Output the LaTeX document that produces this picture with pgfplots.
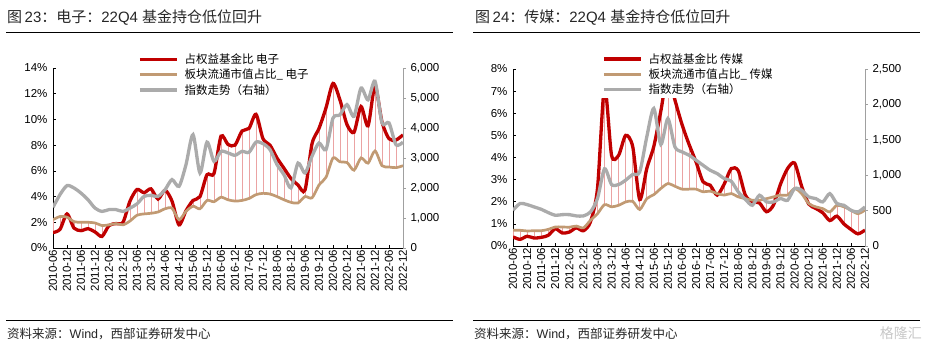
\documentclass[border=0pt]{standalone}
\usepackage{pgfplots}
\pgfplotsset{compat=1.18}
\usepackage{pgfplotstable}
\usepackage{fontspec}
\setmainfont{Liberation Sans}
\newfontfamily\cjk{Noto Sans CJK SC}
\definecolor{cred}{HTML}{C00000}
\definecolor{ctan}{HTML}{C19A73}
\definecolor{cgray}{HTML}{ABABAB}
\definecolor{cdrop}{HTML}{EBA3A3}
\definecolor{caxisg}{HTML}{A0A0A0}
\definecolor{ctext}{HTML}{262626}

% Electronics: i, fund share (%), market-cap share (%), index (right axis)
\pgfplotstableread{
i r t g
0 1.2 2.2 1356
1 1.45 2.45 1780
2 2.65 2.4 2080
3 1.55 2.05 2000
4 1.35 2.0 1830
5 1.5 2.0 1610
6 1.25 1.95 1330
7 0.9 1.75 1220
8 1.75 1.8 1280
9 1.9 1.9 1280
10 2.0 1.8 1220
11 3.65 2.1 1330
12 4.55 2.55 1470
13 4.3 2.65 1720
14 4.6 2.7 1755
15 3.8 2.8 1720
16 4.5 3.05 1940
17 3.65 3.1 2280
18 1.8 2.2 2055
19 2.9 2.85 2780
20 3.7 3.25 3780
21 4.0 3.05 2500
22 5.7 3.7 3530
23 5.8 3.6 2890
24 8.7 3.95 3220
25 8.05 3.75 3170
26 8.0 3.65 3090
27 9.1 3.7 3220
28 9.3 3.85 3190
29 10.4 4.15 3530
30 8.5 4.25 3480
31 8.0 4.2 3280
32 7.0 4.0 2780
33 6.2 3.75 2440
34 5.4 3.55 2000
35 4.9 3.5 2830
36 4.5 4.0 2500
37 8.1 3.9 3060
38 9.3 4.9 3500
39 10.9 5.5 3280
40 12.8 7.0 4330
41 11.5 6.7 4440
42 9.6 6.65 4780
43 9.0 6.05 4390
44 11.0 7.0 5330
45 9.5 6.6 4940
46 12.6 7.55 5560
47 9.8 6.4 4170
48 8.5 6.3 4170
49 8.4 6.25 3440
50 8.8 6.4 3530
}\dataE

% Media
\pgfplotstableread{
i r t g
0 0.41 0.71 505
1 0.3 0.71 600
2 0.44 0.68 585
3 0.36 0.69 552
4 0.39 0.69 519
5 0.48 0.75 472
6 0.78 0.86 434
7 0.59 0.86 443
8 0.63 0.85 443
9 0.82 0.9 425
10 0.69 0.82 425
11 1.09 1.16 481
12 2.6 1.46 670
13 7.2 1.87 1090
14 4.1 1.77 868
15 4.1 1.84 868
16 5.0 1.99 930
17 4.5 2.02 1010
18 2.1 1.65 1047
19 3.5 2.14 1540
20 4.5 2.32 1943
21 6.1 2.6 1434
22 7.8 2.82 1800
23 6.6 2.7 1400
24 5.5 2.57 1330
25 4.6 2.57 1283
26 3.8 2.57 1212
27 2.9 2.45 1140
28 2.75 2.48 1070
29 2.3 2.37 1023
30 2.8 2.3 953
31 3.5 2.37 915
32 3.4 2.22 764
33 2.3 2.14 660
34 2.0 2.07 575
35 1.95 2.07 717
36 1.55 2.14 623
37 1.85 2.22 623
38 2.8 2.3 670
39 3.5 2.3 646
40 3.75 2.6 811
41 2.7 2.37 788
42 1.9 1.92 693
43 1.7 1.77 670
44 1.5 1.69 623
45 1.15 1.54 740
46 1.35 1.84 600
47 1.0 1.77 575
48 0.75 1.62 505
49 0.55 1.46 481
50 0.72 1.62 552
}\dataM

\pgfplotsset{
  base/.style={scale only axis, xmin=0, xmax=50, clip=true,
    /pgf/number format/assume math mode=true,
    tick label style={font=\fontsize{11.5}{12}\selectfont, text=black},
    major tick length=3pt},
  leftax/.style={base, axis y line*=left, axis x line*=bottom, tick align=inside,
    xtick={0,2,...,50},
    xticklabels={2010-06,2010-12,2011-06,2011-12,2012-06,2012-12,2013-06,2013-12,2014-06,2014-12,2015-06,2015-12,2016-06,2016-12,2017-06,2017-12,2018-06,2018-12,2019-06,2019-12,2020-06,2020-12,2021-06,2021-12,2022-06,2022-12},
    xticklabel style={rotate=90, anchor=east, inner sep=1.5pt},
    yticklabel={\pgfmathprintnumber{\tick}\%},
    yticklabel style={xshift=-2pt},
    axis line style={black, line width=0.7pt}, tick style={black, line width=0.6pt}},
  rightax/.style={base, axis y line*=right, axis x line=none, tick align=outside, xtick=\empty,
    y axis line style={caxisg, line width=1pt}, ytick style={caxisg, line width=0.7pt},
    /pgf/number format/1000 sep={,},
    yticklabel style={xshift=1pt},
    legend style={anchor=north west, draw=none, fill=white, inner sep=1pt,
      font=\cjk\fontsize{11.5}{13}\selectfont, row sep=0pt, column sep=4pt,
      cells={anchor=west}},
    legend image code/.code={\draw[##1] (0pt,0pt) -- (37pt,0pt);}},
  drops/.style={draw=none, mark=none, forget plot,
    error bars/.cd, y dir=both, y explicit, error mark=none,
    error bar style={draw=cdrop, line width=0.6pt}},
  rser/.style={cred, line width=3.3pt, smooth, tension=0.45},
  tser/.style={ctan, line width=2.7pt, smooth, tension=0.45},
  gser/.style={cgray, line width=3.3pt, smooth, tension=0.45},
}

\begin{document}
\begin{tikzpicture}
\path[use as bounding box] (0pt,0pt) rectangle (926pt,-347pt);

% ---------- titles and rules ----------
\node[anchor=west, inner sep=0pt, text=ctext, font=\fontsize{15}{17}\selectfont] at (7pt,-17.5pt)
  {{\cjk 图}\,23{\cjk ：电子：}22Q4 {\cjk 基金持仓低位回升}};
\node[anchor=west, inner sep=0pt, text=ctext, font=\fontsize{15}{17}\selectfont] at (475pt,-17.5pt)
  {{\cjk 图}\,24{\cjk ：传媒：}22Q4 {\cjk 基金持仓低位回升}};
\draw[black, line width=0.9pt] (6pt,-32pt) -- (453pt,-32pt);
\draw[black, line width=0.9pt] (473pt,-32pt) -- (920pt,-32pt);
\draw[black, line width=0.9pt] (6pt,-320pt) -- (453pt,-320pt);
\draw[black, line width=0.9pt] (473pt,-320pt) -- (920pt,-320pt);
\node[anchor=west, inner sep=0pt, text=ctext, font=\fontsize{12.5}{14}\selectfont] at (7pt,-334pt)
  {{\cjk 资料来源：}Wind{\cjk ，西部证券研发中心}};
\node[anchor=west, inner sep=0pt, text=ctext, font=\fontsize{12.5}{14}\selectfont] at (474pt,-334pt)
  {{\cjk 资料来源：}Wind{\cjk ，西部证券研发中心}};
\node[anchor=east, inner sep=0pt, text=black!22, font=\cjk\fontsize{14}{16}\selectfont] at (922pt,-333pt) {格隆汇};

% ---------- left panel: electronics ----------
\begin{axis}[leftax, at={(53pt,-248pt)}, anchor=south west, width=350pt, height=180pt,
  ymin=0, ymax=14, ytick={0,2,...,14}]
  \addplot[drops] table[x=i, y=r,
     y error plus expr={max(\thisrow{t}-\thisrow{r},0)},
     y error minus expr={max(\thisrow{r}-\thisrow{t},0)}] {\dataE};
  \addplot[rser] table[x=i, y=r] {\dataE};
  \addplot[tser] table[x=i, y=t] {\dataE};
\end{axis}
\begin{axis}[rightax, at={(53pt,-248pt)}, anchor=south west, width=350pt, height=180pt,
  ymin=0, ymax=6000, ytick={0,1000,...,6000},
  legend style={at={(0.24,1.097)}}]
  \addlegendimage{rser}
  \addlegendentry{占权益基金比 电子}
  \addlegendimage{tser}
  \addlegendentry{板块流通市值占比\_ 电子}
  \addplot[gser] table[x=i, y=g] {\dataE};
  \addlegendentry{指数走势（右轴）}
\end{axis}

% ---------- right panel: media ----------
\begin{axis}[leftax, at={(513pt,-246pt)}, anchor=south west, width=352pt, height=177pt,
  ymin=0, ymax=8, ytick={0,1,...,8}]
  \addplot[drops] table[x=i, y=r,
     y error plus expr={max(\thisrow{t}-\thisrow{r},0)},
     y error minus expr={max(\thisrow{r}-\thisrow{t},0)}] {\dataM};
  \addplot[rser] table[x=i, y=r] {\dataM};
  \addplot[tser] table[x=i, y=t] {\dataM};
\end{axis}
\begin{axis}[rightax, at={(513pt,-246pt)}, anchor=south west, width=352pt, height=177pt,
  ymin=0, ymax=2500, ytick={0,500,...,2500},
  legend style={at={(0.25,1.107)}}]
  \addlegendimage{rser}
  \addlegendentry{占权益基金比 传媒}
  \addlegendimage{tser}
  \addlegendentry{板块流通市值占比\_ 传媒}
  \addplot[gser] table[x=i, y=g] {\dataM};
  \addlegendentry{指数走势（右轴）}
\end{axis}
\end{tikzpicture}
\end{document}
